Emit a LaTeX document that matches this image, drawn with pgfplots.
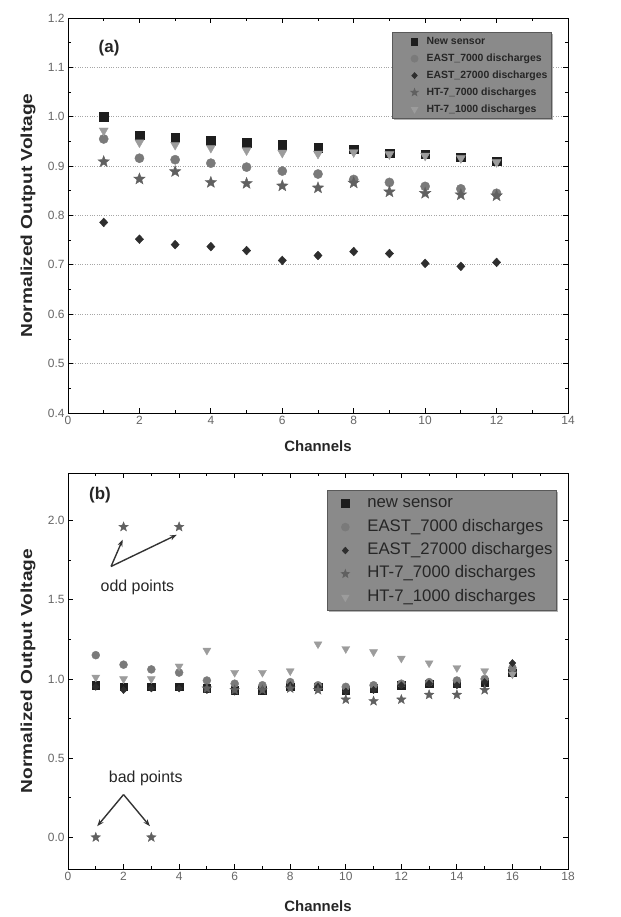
\documentclass[border=0pt]{standalone}
\usepackage{pgfplots}
\pgfplotsset{compat=1.18}
\usepackage{fontspec}
\setmainfont{Liberation Sans}
\usetikzlibrary{arrows.meta,shadows}

\definecolor{cNew}{HTML}{1E1E1E}
\definecolor{cE7}{HTML}{7A7A7A}
\definecolor{cE27}{HTML}{2E2E2E}
\definecolor{cH7}{HTML}{606060}
\definecolor{cH1}{HTML}{9C9C9C}
\definecolor{legbg}{HTML}{8A8A8A}

\pgfdeclareplotmark{fstar}{%
  \pgfpathmoveto{\pgfpointpolar{90}{\pgfplotmarksize}}%
  \pgfpathlineto{\pgfpointpolar{126}{0.42\pgfplotmarksize}}%
  \pgfpathlineto{\pgfpointpolar{162}{\pgfplotmarksize}}%
  \pgfpathlineto{\pgfpointpolar{198}{0.42\pgfplotmarksize}}%
  \pgfpathlineto{\pgfpointpolar{234}{\pgfplotmarksize}}%
  \pgfpathlineto{\pgfpointpolar{270}{0.42\pgfplotmarksize}}%
  \pgfpathlineto{\pgfpointpolar{306}{\pgfplotmarksize}}%
  \pgfpathlineto{\pgfpointpolar{342}{0.42\pgfplotmarksize}}%
  \pgfpathlineto{\pgfpointpolar{18}{\pgfplotmarksize}}%
  \pgfpathlineto{\pgfpointpolar{54}{0.42\pgfplotmarksize}}%
  \pgfpathclose
  \pgfusepathqfillstroke
}

\pgfplotsset{
  common/.style={
    scale only axis,
    tick align=inside,
    major tick length=5bp,
    minor tick length=3bp,
    axis line style={black, line width=1pt},
    every tick/.style={black, line width=0.8pt},
    /pgf/number format/assume math mode=true,
    tick label style={font=\fontsize{12}{13}\selectfont, text=black!60},
    yticklabel style={/pgf/number format/fixed,/pgf/number format/fixed zerofill,/pgf/number format/precision=1},
    xlabel style={font=\bfseries\fontsize{15}{17}\selectfont, text=black!85},
    ylabel style={font=\bfseries\fontsize{16}{18}\selectfont, text=black!85, xscale=1.2},
    legend cell align=left,
  },
  sNew/.style={only marks, mark=square*, mark size=4.3bp, color=cNew},
  sE7/.style={only marks, mark=*, mark size=4.6bp, color=cE7},
  sE27/.style={only marks, mark=diamond*, mark size=5.5bp, mark options={yscale=0.8}, color=cE27},
  sH7/.style={only marks, mark=fstar, mark size=6bp, color=cH7},
  sH1/.style={only marks, mark=triangle*, mark size=5.2bp, mark options={rotate=180}, color=cH1},
}

\begin{document}
\begin{tikzpicture}
\useasboundingbox (-68bp,-504bp) rectangle (553bp,413bp);
% ---------------- panel (a)
\begin{axis}[common,
  at={(0bp,0bp)}, anchor=south west,
  width=500bp, height=395bp,
  xmin=0, xmax=14, ymin=0.4, ymax=1.2,
  xtick={0,2,...,14}, minor x tick num=1,
  ytick={0.4,0.5,...,1.2}, minor y tick num=1,
  ymajorgrids, grid style={dotted, black!35, line width=1pt},
  xlabel={Channels}, ylabel={Normalized Output Voltage},
  xlabel style={at={(axis description cs:0.5,-0.085)}, anchor=center},
  ylabel style={at={(axis description cs:-0.08,0.5)}, anchor=center},
  legend style={at={(0.968,0.965)}, anchor=north east, fill=legbg, draw=black!65,
    line width=1pt, drop shadow={shadow xshift=1.5bp, shadow yshift=-1.5bp, fill=black!60},
    font=\bfseries\fontsize{10.5}{12}\selectfont, text=black!85,
    inner xsep=2bp, inner ysep=1bp, row sep=0bp,
    nodes={text height=8bp, text depth=2.5bp, inner ysep=3.2bp, inner xsep=2bp}},
  legend image code/.code={\path[draw=none,fill=none] (0bp,0bp) (30bp,0bp);
    \draw[#1, only marks, mark size=3.4bp] plot coordinates {(20bp,0bp)};},
]
\addplot[sNew] coordinates {(1,1.000) (2,0.963) (3,0.958) (4,0.952) (5,0.947) (6,0.943) (7,0.937) (8,0.934) (9,0.926) (10,0.924) (11,0.918) (12,0.910)};
\addlegendentry{New sensor}
\addplot[sE7] coordinates {(1,0.955) (2,0.916) (3,0.913) (4,0.906) (5,0.898) (6,0.890) (7,0.884) (8,0.873) (9,0.867) (10,0.859) (11,0.854) (12,0.845)};
\addlegendentry{EAST\_7000 discharges}
\addplot[sE27] coordinates {(1,0.786) (2,0.752) (3,0.741) (4,0.737) (5,0.729) (6,0.709) (7,0.719) (8,0.727) (9,0.723) (10,0.703) (11,0.697) (12,0.705)};
\addlegendentry{EAST\_27000 discharges}
\addplot[sH7] coordinates {(1,0.909) (2,0.874) (3,0.889) (4,0.867) (5,0.865) (6,0.860) (7,0.856) (8,0.866) (9,0.848) (10,0.845) (11,0.842) (12,0.840)};
\addlegendentry{HT-7\_7000 discharges}
\addplot[sH1] coordinates {(1,0.972) (2,0.948) (3,0.943) (4,0.937) (5,0.932) (6,0.927) (7,0.925) (8,0.928) (9,0.924) (10,0.921) (11,0.916) (12,0.908)};
\addlegendentry{HT-7\_1000 discharges}
\node[font=\bfseries\fontsize{17}{19}\selectfont, text=black!85] at (axis cs:1.15,1.14) {(a)};
\end{axis}
% ---------------- panel (b)
\begin{axis}[common,
  at={(0bp,-60bp)}, anchor=north west,
  width=500bp, height=396bp,
  xmin=0, xmax=18, ymin=-0.2, ymax=2.3,
  xtick={0,2,...,18}, minor x tick num=1,
  ytick={0,0.5,...,2.0}, minor y tick num=1,
  xlabel={Channels}, ylabel={Normalized Output Voltage},
  xlabel style={at={(axis description cs:0.5,-0.094)}, anchor=center},
  ylabel style={at={(axis description cs:-0.08,0.5)}, anchor=center},
  legend style={at={(0.978,0.957)}, anchor=north east, fill=legbg, draw=black!65,
    line width=1pt, drop shadow={shadow xshift=1.5bp, shadow yshift=-1.5bp, fill=black!60},
    font=\fontsize{16.8}{18}\selectfont, text=black!85,
    inner xsep=2bp, inner ysep=1.5bp, row sep=0bp,
    nodes={text height=11.5bp, text depth=3.5bp, inner ysep=4.2bp, inner xsep=2bp}},
  legend image code/.code={\path[draw=none,fill=none] (0bp,0bp) (36bp,0bp);
    \draw[#1, only marks, mark size=3.8bp] plot coordinates {(16bp,0bp)};},
]
\addplot[sNew, mark size=3.8bp] coordinates {(1,0.96) (2,0.95) (3,0.95) (4,0.95) (5,0.94) (6,0.93) (7,0.93) (8,0.95) (9,0.95) (10,0.93) (11,0.94) (12,0.96) (13,0.97) (14,0.97) (15,0.98) (16,1.04)};
\addlegendentry{new sensor}
\addplot[sE7, mark size=4bp] coordinates {(1,1.15) (2,1.09) (3,1.06) (4,1.04) (5,0.99) (6,0.97) (7,0.96) (8,0.98) (9,0.96) (10,0.95) (11,0.96) (12,0.97) (13,0.98) (14,0.99) (15,1.00) (16,1.07)};
\addlegendentry{EAST\_7000 discharges}
\addplot[sE27, mark size=4.5bp] coordinates {(1,0.95) (2,0.93) (3,0.94) (4,0.94) (5,0.93) (6,0.92) (7,0.93) (8,0.96) (9,0.95) (10,0.92) (11,0.93) (12,0.96) (13,0.97) (14,0.96) (15,0.98) (16,1.10)};
\addlegendentry{EAST\_27000 discharges}
\addplot[sH7, mark size=5bp] coordinates {(1,0.00) (2,1.96) (3,0.00) (4,1.96) (5,0.94) (6,0.93) (7,0.93) (8,0.94) (9,0.93) (10,0.87) (11,0.86) (12,0.87) (13,0.90) (14,0.90) (15,0.93)};
\addlegendentry{HT-7\_7000 discharges}
\addplot[sH1, mark size=4.6bp] coordinates {(1,1.01) (2,1.00) (3,1.00) (4,1.08) (5,1.18) (6,1.04) (7,1.04) (8,1.05) (9,1.22) (10,1.19) (11,1.17) (12,1.13) (13,1.10) (14,1.07) (15,1.05) (16,1.03)};
\addlegendentry{HT-7\_1000 discharges}
\node[font=\bfseries\fontsize{17}{19}\selectfont, text=black!85] at (axis cs:1.15,2.16) {(b)};
\node[font=\fontsize{16}{18}\selectfont, text=black!85] at (axis cs:2.5,1.58) {odd points};
\draw[-{Stealth[length=7bp,width=5bp]}, line width=1.4pt, black!80] (axis cs:1.55,1.71) -- (axis cs:1.97,1.88);
\draw[-{Stealth[length=7bp,width=5bp]}, line width=1.4pt, black!80] (axis cs:1.55,1.71) -- (axis cs:3.92,1.91);
\node[font=\fontsize{16}{18}\selectfont, text=black!85] at (axis cs:2.8,0.37) {bad points};
\draw[-{Stealth[length=7bp,width=5bp]}, line width=1.4pt, black!80] (axis cs:2.0,0.27) -- (axis cs:1.05,0.07);
\draw[-{Stealth[length=7bp,width=5bp]}, line width=1.4pt, black!80] (axis cs:2.0,0.27) -- (axis cs:2.95,0.07);
\end{axis}
\end{tikzpicture}
\end{document}
